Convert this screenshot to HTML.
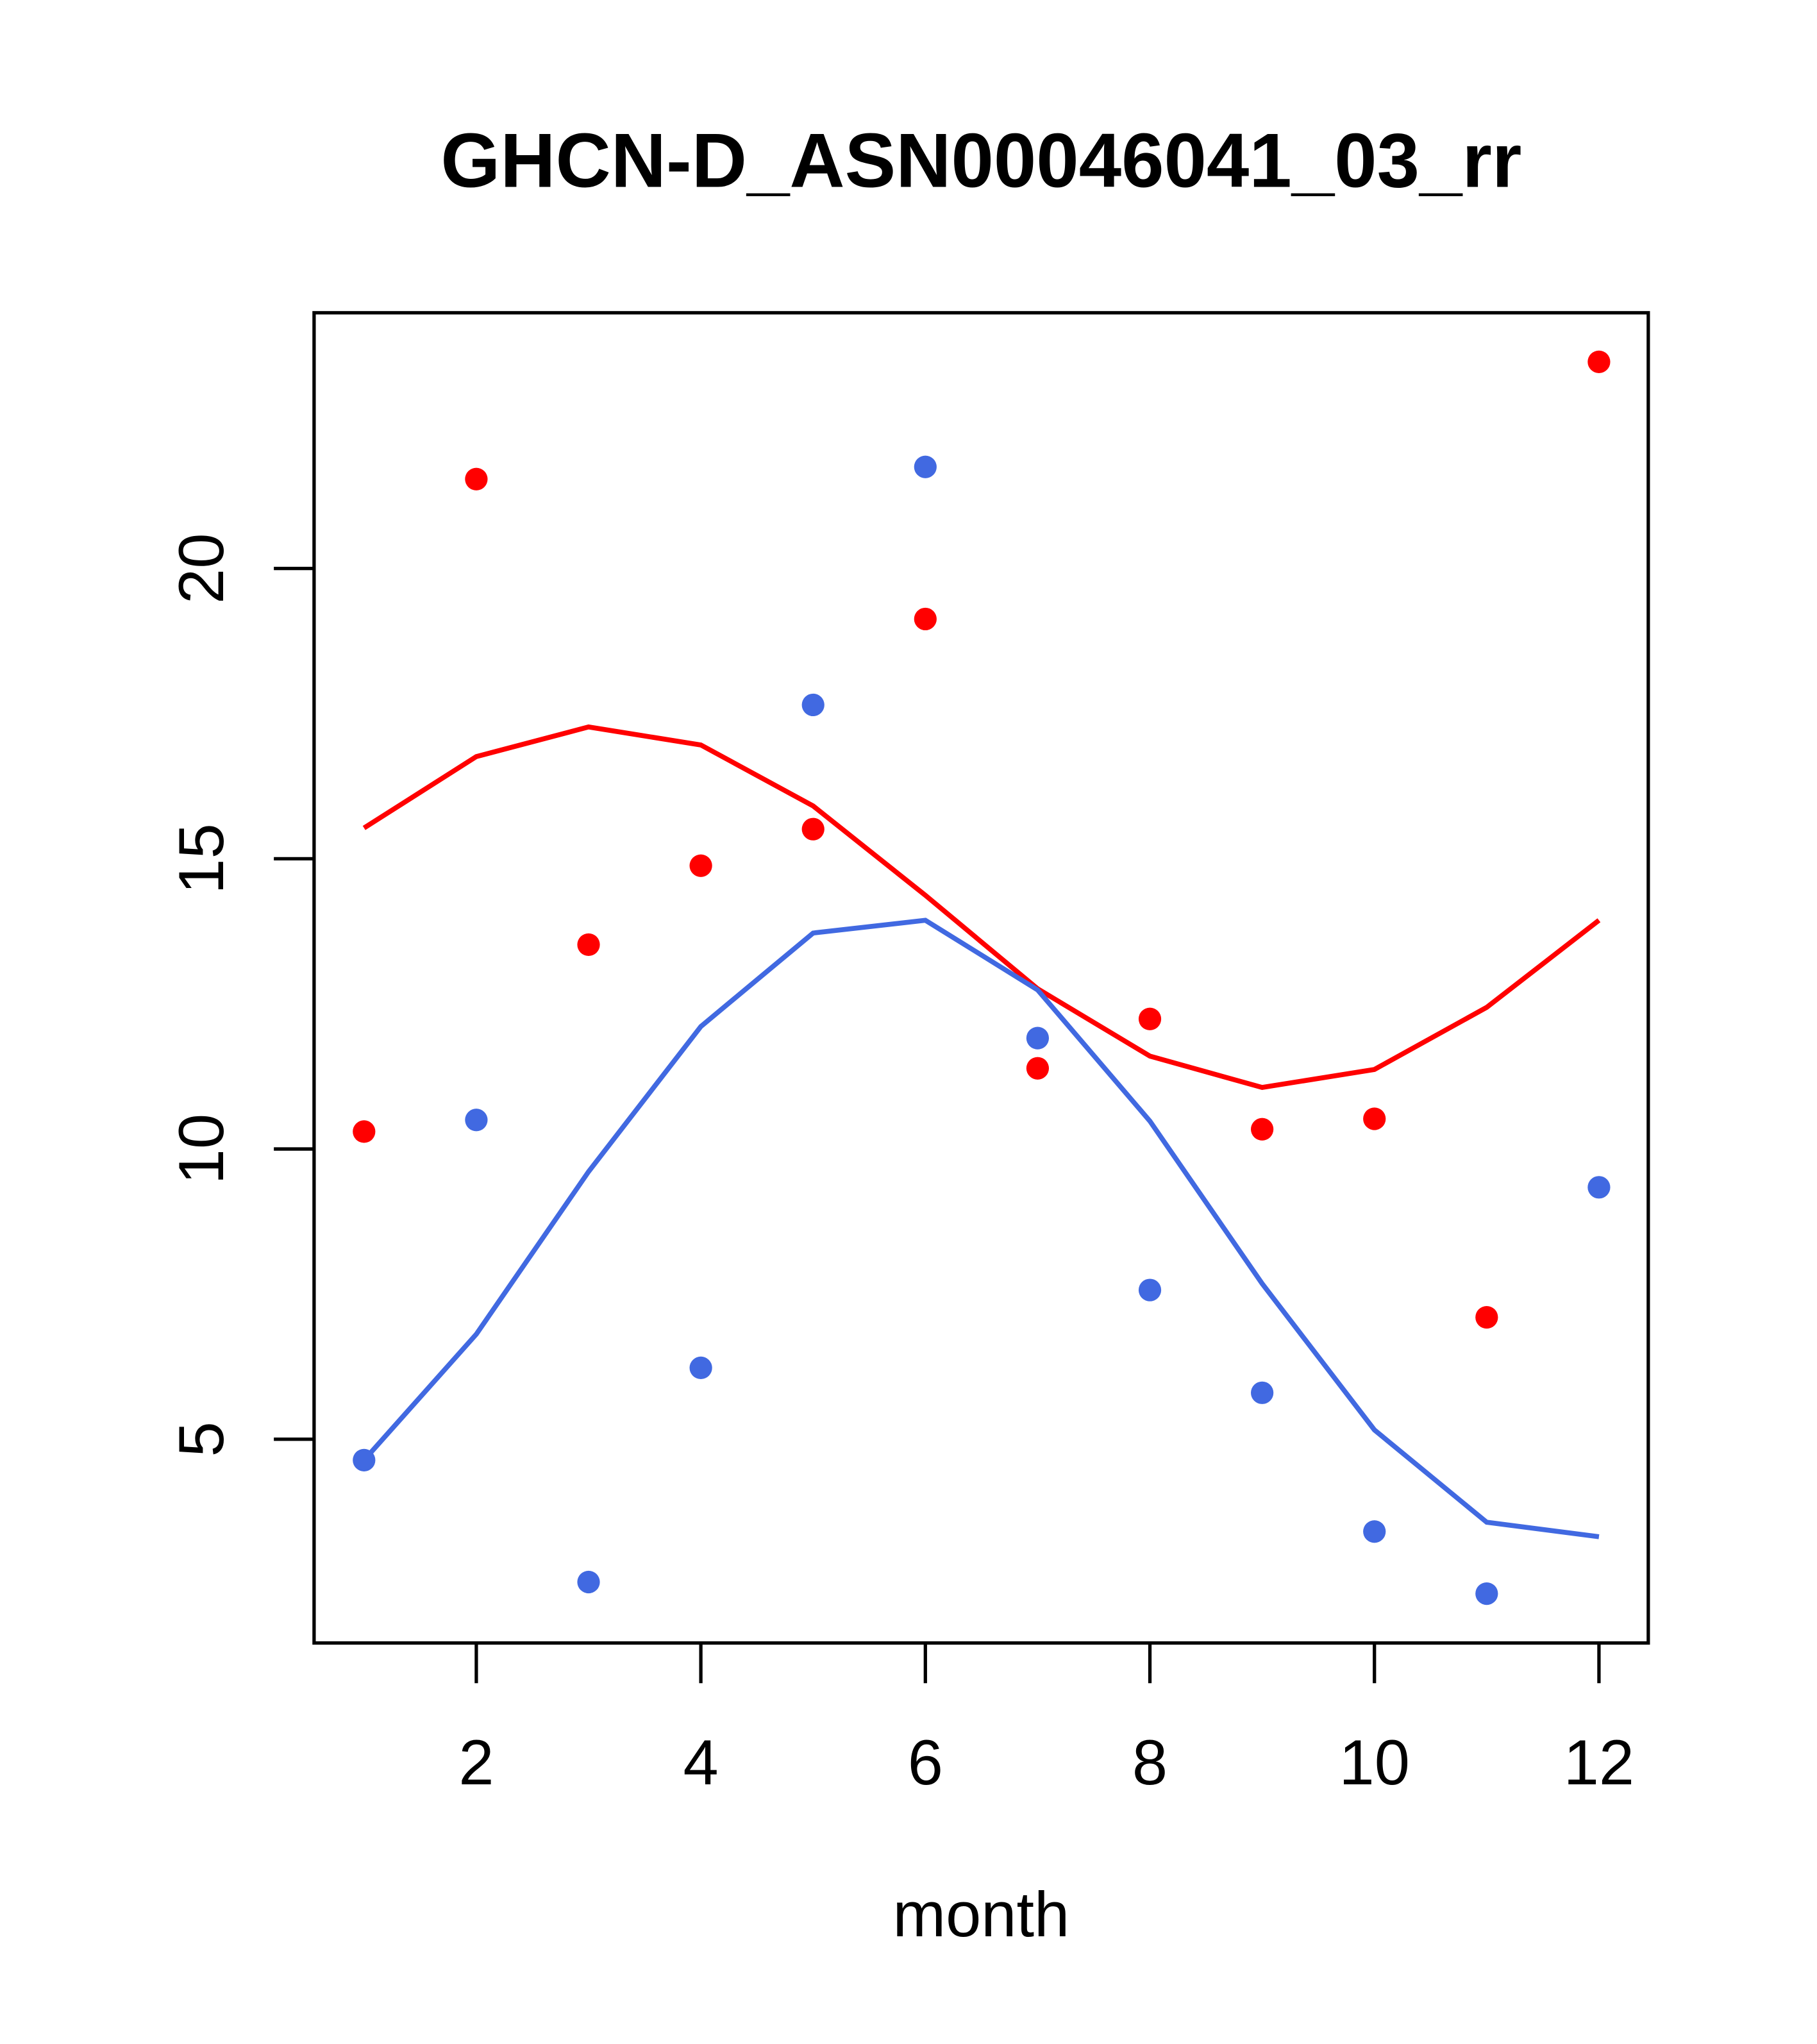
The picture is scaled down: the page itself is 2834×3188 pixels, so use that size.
<!DOCTYPE html>
<html><head><meta charset="utf-8"><style>html,body{margin:0;padding:0;background:#fff}svg{display:block}</style></head>
<body>
<svg width="2834" height="3188" viewBox="0 0 1400 1575" preserveAspectRatio="none" xmlns="http://www.w3.org/2000/svg" font-family="Liberation Sans, sans-serif">
<rect width="1400" height="1575" fill="#fff"/>
<text x="756" y="144" text-anchor="middle" font-size="59" font-weight="bold">GHCN-D_ASN00046041_03_rr</text>
<rect x="242" y="241" width="1028" height="1025" fill="none" stroke="#000" stroke-width="2.6"/>
<g id="axes"></g>
<g id="marks"></g>
<text x="756" y="1492" text-anchor="middle" font-size="49">month</text>
</svg>
<script>
const months=[1,2,3,4,5,6,7,8,9,10,11,12];
const redPoints=[10.30,21.54,13.52,14.88,15.51,19.13,11.39,12.24,10.34,10.52,7.10,23.56];
const bluePoints=[4.64,10.50,2.54,6.23,17.65,21.75,11.91,7.57,5.80,3.41,2.34,9.34];
const redLine=[15.53,16.76,17.27,16.96,15.91,14.37,12.76,11.60,11.06,11.37,12.44,13.94];
const blueLine=[4.64,6.81,9.61,12.11,13.72,13.94,12.74,10.48,7.68,5.16,3.57,3.32];
const xTicks=[2,4,6,8,10,12];
const yTicks=[5,10,15,20];
const NS='http://www.w3.org/2000/svg';
function xs(m){return 280.5+(m-1)*86.5;}
function ys(v){return 1109-(v-5)*44.73;}
const axes=document.getElementById('axes'),marks=document.getElementById('marks');
function mk(t,a,p){const e=document.createElementNS(NS,t);for(const k in a)e.setAttribute(k,a[k]);p.appendChild(e);return e;}
xTicks.forEach(t=>{
  const l=mk('line',{x1:xs(t),x2:xs(t),y1:1266,y2:1297,stroke:'#000','stroke-width':2.6},axes);
  
  
  const tx=mk('text',{x:xs(t),y:1375,'text-anchor':'middle','font-size':49},axes);tx.textContent=t;
  
  
});
yTicks.forEach(t=>{
  const l=mk('line',{x1:211,x2:242,y1:ys(t),y2:ys(t),stroke:'#000','stroke-width':2.6},axes);
  
  
  const tx=mk('text',{x:0,y:0,'text-anchor':'middle','font-size':49,transform:`translate(172,${ys(t)}) rotate(-90)`},axes);tx.textContent=t;
  
  
});
function line(vals,col,name){
  const p=mk('polyline',{points:vals.map((v,i)=>xs(months[i])+','+ys(v)).join(' '),fill:'none',stroke:col,'stroke-width':3.8},marks);
  
  
}
function pts(vals,col,name){
  vals.forEach((v,i)=>{
    const c=mk('circle',{cx:xs(months[i]),cy:ys(v),r:8.7,fill:col},marks);
    
    
  });
}
line(redLine,'#ff0000','red-line');
line(blueLine,'#4169e1','blue-line');
pts(redPoints,'#ff0000','red-point');
pts(bluePoints,'#4169e1','blue-point');
</script>
</body></html>
